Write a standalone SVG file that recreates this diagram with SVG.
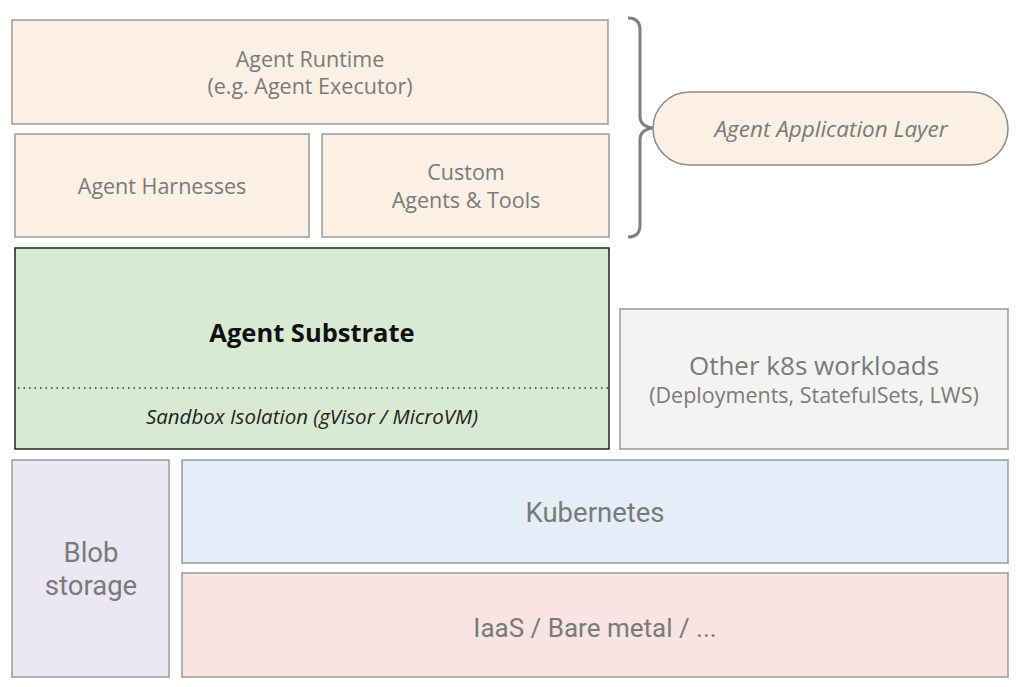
<svg xmlns="http://www.w3.org/2000/svg" width="1024" height="687" viewBox="0 0 1024 687">
<style>
.box{stroke:#9a9a9a;stroke-width:1.5}
.peach{fill:#fcefe4}
.t{font-family:"Open Sans","Noto Sans",sans-serif;fill:#7a7a7a;text-anchor:middle}
.r{font-family:Roboto,"Noto Sans",sans-serif;fill:#7a7a7a;text-anchor:middle}
</style>
<rect width="1024" height="687" fill="#ffffff"/>
<g id="agent-runtime">
<rect class="box peach" x="12" y="20" width="596" height="104"/>
<text class="t" x="310" y="67" font-size="21.5">Agent Runtime</text>
<text class="t" x="310" y="94" font-size="21.5">(e.g. Agent Executor)</text>
</g>
<g id="agent-harnesses">
<rect class="box peach" x="15" y="134" width="294" height="103"/>
<text class="t" x="162" y="194" font-size="21.5">Agent Harnesses</text>
</g>
<g id="custom-agents">
<rect class="box peach" x="322" y="134" width="287" height="103"/>
<text class="t" x="466" y="180" font-size="21.5">Custom</text>
<text class="t" x="466" y="208" font-size="21.5">Agents &amp; Tools</text>
</g>
<g id="connectors">
<path d="M628 18 Q640 18 640 30 L640 116 Q640 127 654 128 Q640 129 640 140 L640 225 Q640 237 628 237" fill="none" stroke="#7f7f7f" stroke-width="3"/>
</g>
<g id="agent-application-layer">
<rect x="653" y="92" width="355" height="73" rx="36.5" fill="#fcefe4" stroke="#8a8a8a" stroke-width="1.5"/>
<text class="t" x="831" y="137" font-size="22.5" font-style="italic">Agent Application Layer</text>
</g>
<g id="agent-substrate">
<rect x="15" y="248" width="594" height="201" fill="#d9ead3" stroke="#222" stroke-width="1.5"/>
<line x1="18" y1="388" x2="608" y2="388" stroke="#333" stroke-width="1.5" stroke-dasharray="1.5 4"/>
<text x="312" y="342" font-family="'Open Sans','Noto Sans',sans-serif" font-size="25.5" font-weight="bold" fill="#111" text-anchor="middle">Agent Substrate</text>
<text x="312" y="424" font-family="'Open Sans','Noto Sans',sans-serif" font-size="20.5" font-style="italic" fill="#222" text-anchor="middle">Sandbox Isolation (gVisor / MicroVM)</text>
</g>
<g id="other-k8s">
<rect class="box" x="620" y="309" width="388" height="140" fill="#f3f3f3"/>
<text class="t" x="814" y="375" font-size="26">Other k8s workloads</text>
<text class="t" x="814" y="403" font-size="21.5">(Deployments, StatefulSets, LWS)</text>
</g>
<g id="blob-storage">
<rect class="box" x="12" y="460" width="157" height="217" fill="#ebe7f3"/>
<text class="r" x="91" y="562" font-size="27.5">Blob</text>
<text class="r" x="91" y="595" font-size="27.5">storage</text>
</g>
<g id="kubernetes">
<rect class="box" x="182" y="460" width="826" height="103" fill="#e3eef8"/>
<text class="r" x="595" y="522" font-size="27.5">Kubernetes</text>
</g>
<g id="iaas">
<rect class="box" x="182" y="573" width="826" height="104" fill="#f9e4e4"/>
<text class="r" x="595" y="637" font-size="26">IaaS / Bare metal / ...</text>
</g>
</svg>
